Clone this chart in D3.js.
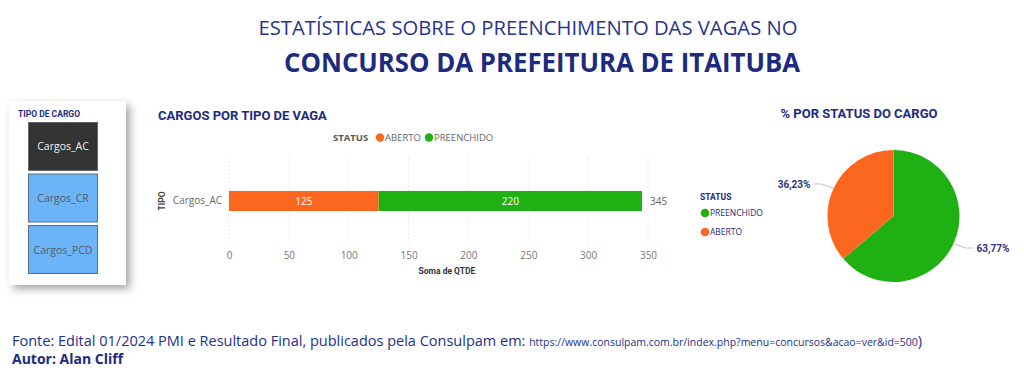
<!DOCTYPE html>
<html><head><meta charset="utf-8">
<script src="https://cdn.jsdelivr.net/npm/d3@7/dist/d3.min.js"></script>
<style>body{margin:0;background:#fff}svg{display:block}</style>
</head><body>
<script>
const categories = ["Cargos_AC"];
const statuses = ["ABERTO", "PREENCHIDO"];
const aberto = [125];
const preenchido = [220];
const xTicks = [0, 50, 100, 150, 200, 250, 300, 350];
const slicerItems = ["Cargos_AC", "Cargos_CR", "Cargos_PCD"];
const pieStatus = ["PREENCHIDO", "ABERTO"];
const pieValues = [220, 125];
const pieLabels = ["63,77%", "36,23%"];

const W = 1024, H = 379;
const navy = "#1c2a80";
const cOrange = "#fc671f", cGreen = "#1fb014";
const colorOf = {ABERTO: cOrange, PREENCHIDO: cGreen};

const svg = d3.select("body").append("svg").attr("width", W).attr("height", H);
const defs = svg.append("defs");
const f = defs.append("filter").attr("id","sh").attr("x","-20%").attr("y","-20%").attr("width","150%").attr("height","150%");
f.append("feDropShadow").attr("dx",4).attr("dy",4).attr("stdDeviation",4).attr("flood-color","#000").attr("flood-opacity",0.35);

// Titles
svg.append("text").attr("x", 528).attr("y", 35).attr("text-anchor","middle")
  .attr("font-family","Open Sans").attr("font-size",20).attr("fill","#27358f")
  .attr("textLength",539).attr("lengthAdjust","spacingAndGlyphs")
  .text("ESTATÍSTICAS SOBRE O PREENCHIMENTO DAS VAGAS NO");
svg.append("text").attr("x", 542).attr("y", 72).attr("text-anchor","middle")
  .attr("font-family","Open Sans").attr("font-weight","bold").attr("font-size",26).attr("fill",navy)
  .attr("textLength",516).attr("lengthAdjust","spacingAndGlyphs")
  .text("CONCURSO DA PREFEITURA DE ITAITUBA");

// Slicer card
svg.append("rect").attr("x",9).attr("y",101).attr("width",117).attr("height",184).attr("fill","#fff").attr("filter","url(#sh)");
svg.append("text").attr("x",18).attr("y",117).attr("font-family","Roboto").attr("font-weight","bold")
  .attr("font-size",8.5).attr("fill",navy).text("TIPO DE CARGO");
const sy = d3.scaleBand().domain(slicerItems).range([122, 274]).paddingInner(0.05);
const sl = svg.append("g").selectAll("g").data(slicerItems).join("g");
sl.append("rect").attr("x",28.5).attr("y",d=>sy(d)+0.5).attr("width",69).attr("height",sy.bandwidth()-1)
  .attr("fill",(d,i)=>i===0?"#333333":"#6bb4f7").attr("stroke",(d,i)=>i===0?"#666":"#5a6b80").attr("stroke-width",1);
sl.append("text").attr("x",63).attr("y",d=>sy(d)+sy.bandwidth()/2+4).attr("text-anchor","middle")
  .attr("font-family","Open Sans").attr("font-size",10.5).attr("fill",(d,i)=>i===0?"#f2f2f2":"#555a66").text(d=>d);

// Bar chart
svg.append("text").attr("x",158).attr("y",120).attr("font-family","Roboto").attr("font-weight","bold")
  .attr("font-size",13).attr("fill",navy).text("CARGOS POR TIPO DE VAGA");
const lg = svg.append("g").attr("font-family","Open Sans").attr("font-size",9.5);
lg.append("text").attr("x",333).attr("y",141).attr("font-weight","bold").attr("fill","#555").text("STATUS");
[["ABERTO",380,385],["PREENCHIDO",429,434]].forEach(([s,cx,tx])=>{
  lg.append("circle").attr("cx",cx).attr("cy",137.5).attr("r",4.2).attr("fill",colorOf[s]);
  lg.append("text").attr("x",tx).attr("y",141).attr("fill","#666").text(s);
});

const x = d3.scaleLinear().domain([0, 350]).range([229, 648]);
const y = d3.scaleBand().domain(categories).range([158, 244]).paddingInner(0.5).paddingOuter(0.825);
// grid
svg.append("g").selectAll("line").data(xTicks).join("line")
  .attr("x1",d=>x(d)).attr("x2",d=>x(d)).attr("y1",158).attr("y2",246)
  .attr("stroke","#d9d9d9").attr("stroke-dasharray","1,3");
const xAxis = svg.append("g").attr("transform","translate(0,246)")
  .call(d3.axisBottom(x).tickValues(xTicks).tickSize(0).tickPadding(6));
xAxis.select(".domain").remove();
xAxis.selectAll("text").attr("font-family","Open Sans").attr("font-size",10).attr("fill","#777");
svg.append("text").attr("x",447).attr("y",274).attr("text-anchor","middle").attr("font-family","Roboto")
  .attr("font-weight","bold").attr("font-size",8.5).attr("fill","#333").text("Soma de QTDE");

const yAxis = svg.append("g").attr("transform","translate(226,0)").call(d3.axisLeft(y).tickSize(0).tickPadding(4));
yAxis.select(".domain").remove();
yAxis.selectAll("text").attr("font-family","Open Sans").attr("font-size",10).attr("fill","#666");
svg.append("text").attr("transform","translate(165,201) rotate(-90)").attr("text-anchor","middle")
  .attr("font-family","Roboto").attr("font-weight","bold").attr("font-size",8.5).attr("fill","#444").text("TIPO");

const stackData = categories.map((c,i)=>({cat:c, ABERTO:aberto[i], PREENCHIDO:preenchido[i]}));
const series = d3.stack().keys(statuses)(stackData);
const bars = svg.append("g");
series.forEach(s=>{
  bars.selectAll(null).data(s).join("rect")
    .attr("x",d=>x(d[0])).attr("width",d=>x(d[1])-x(d[0]))
    .attr("y",d=>y(d.data.cat)).attr("height",y.bandwidth()).attr("fill",colorOf[s.key]);
  bars.selectAll(null).data(s).join("text")
    .attr("x",d=>(x(d[0])+x(d[1]))/2).attr("y",d=>y(d.data.cat)+y.bandwidth()/2+4)
    .attr("text-anchor","middle").attr("font-family","Open Sans").attr("font-size",10).attr("fill","#fff")
    .text(d=>d[1]-d[0]);
});
bars.selectAll(null).data(stackData).join("text")
  .attr("x",d=>x(d.ABERTO+d.PREENCHIDO)+8).attr("y",d=>y(d.cat)+y.bandwidth()/2+4)
  .attr("font-family","Open Sans").attr("font-size",10).attr("fill","#666").text(d=>d.ABERTO+d.PREENCHIDO);

// Pie
svg.append("text").attr("x",859).attr("y",118).attr("text-anchor","middle").attr("font-family","Roboto")
  .attr("font-weight","bold").attr("font-size",13).attr("fill",navy).text("% POR STATUS DO CARGO");
const pl = svg.append("g").attr("font-family","Open Sans").attr("font-size",8.5);
pl.append("text").attr("x",700).attr("y",200).attr("font-family","Roboto").attr("font-weight","bold").attr("fill",navy).text("STATUS");
pieStatus.forEach((s,i)=>{
  pl.append("circle").attr("cx",705).attr("cy",213+i*19).attr("r",4.3).attr("fill",colorOf[s]);
  pl.append("text").attr("x",710).attr("y",216+i*19).attr("fill",navy).text(s);
});
const cx = 893.5, cy = 216, R = 66;
const pieData = d3.pie().sort(null)(pieValues);
const arc = d3.arc().innerRadius(0).outerRadius(R);
const pg = svg.append("g").attr("transform",`translate(${cx},${cy})`);
pg.selectAll("path").data(pieData).join("path").attr("d",arc).attr("fill",(d,i)=>colorOf[pieStatus[i]]);
pieData.forEach((d,i)=>{
  const mid = (d.startAngle+d.endAngle)/2;
  const side = Math.sin(mid) >= 0 ? 1 : -1;
  const ey = i===0 ? 32 : -32;
  const e1 = [side*(R+6), ey], e2 = [side*(R+14), ey];
  pg.append("polyline").attr("points",[ [R*Math.sin(mid), -R*Math.cos(mid)], e1, e2 ].map(p=>p.join(",")).join(" "))
    .attr("fill","none").attr("stroke","#c8c8c8").attr("stroke-width",1.2);
  pg.append("text").attr("x",side*(R+17)).attr("y",ey+4).attr("text-anchor",side>0?"start":"end")
    .attr("font-family","Roboto").attr("font-weight","bold").attr("font-size",10).attr("fill","#2a3580").text(pieLabels[i]);
});

// Footer
const ft = svg.append("text").attr("x",12).attr("y",346).attr("font-family","Open Sans").attr("fill","#22308a");
ft.append("tspan").attr("font-size",14.5).text("Fonte: Edital 01/2024 PMI e Resultado Final, publicados pela Consulpam em: ");
ft.append("tspan").attr("font-size",10.5).text("https://www.consulpam.com.br/index.php?menu=concursos&acao=ver&id=500");
ft.append("tspan").attr("font-size",14.5).text(")");
svg.append("text").attr("x",12).attr("y",364).attr("font-family","Open Sans").attr("font-weight","bold")
  .attr("font-size",14).attr("fill","#1c2a80").text("Autor: Alan Cliff");
</script>
</body></html>
